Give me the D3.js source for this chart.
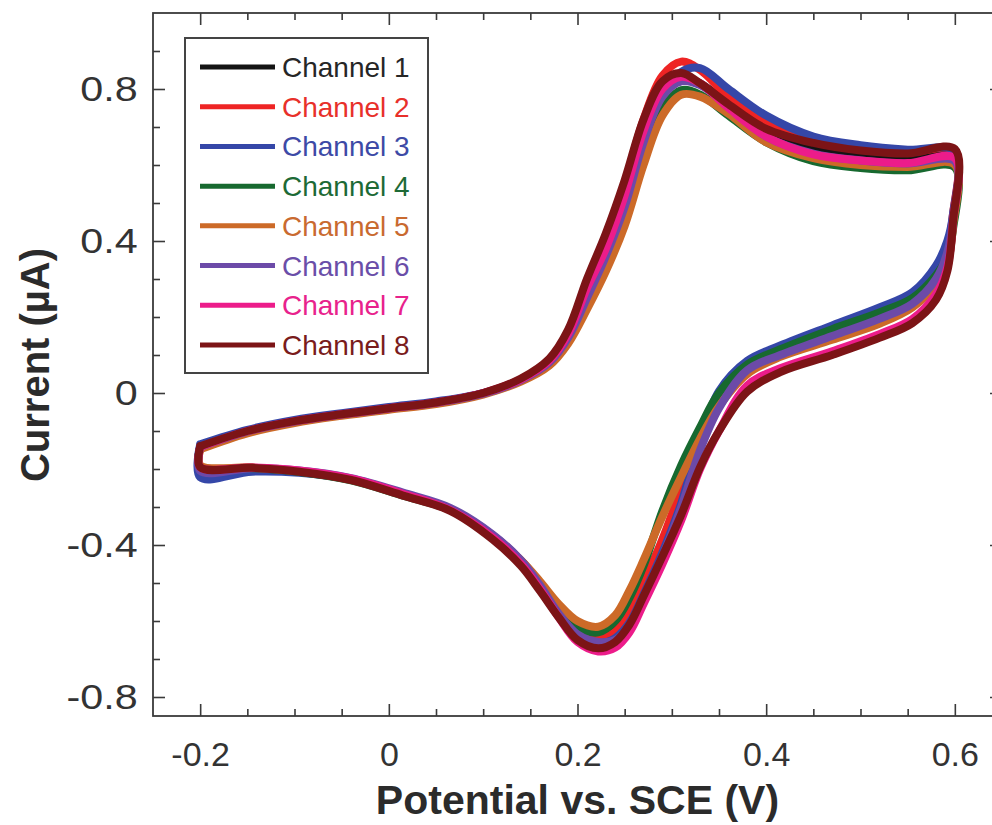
<!DOCTYPE html>
<html>
<head>
<meta charset="utf-8">
<script src="https://cdn.jsdelivr.net/npm/d3@7"></script>
<style>
  body { margin: 0; background: #fff; }
  svg { display: block; }
</style>
</head>
<body>
<div id="plot"></div>
<script>
// channels and tick labels
let channels = ['Channel 1', 'Channel 2', 'Channel 3', 'Channel 4',
                'Channel 5', 'Channel 6', 'Channel 7', 'Channel 8'];
let xTicks = [-0.2, 0, 0.2, 0.4, 0.6];
let yTicks = [-0.8, -0.4, 0, 0.4, 0.8];

// potential (V) of the forward scan and of the return scan
let potentialFwd = [-0.2, -0.15, -0.1, -0.05, 0, 0.05, 0.1, 0.14, 0.17, 0.19, 0.21, 0.23,
                    0.25, 0.27, 0.29, 0.31, 0.33, 0.36, 0.4, 0.45, 0.5, 0.55, 0.6];
let potentialRev = [0.598, 0.592, 0.58, 0.555, 0.52, 0.47, 0.415, 0.38, 0.35, 0.33, 0.31, 0.29,
                    0.27, 0.255, 0.24, 0.222, 0.2, 0.18, 0.16, 0.14, 0.11, 0.065, 0.015,
                    -0.04, -0.095, -0.145, -0.2];

// current (uA)
let ch1Fwd = [-0.143, -0.101, -0.075, -0.056, -0.040, -0.025, -0.001, 0.035, 0.084, 0.150, 0.260, 0.370,
              0.500, 0.670, 0.790, 0.830, 0.815, 0.760, 0.690, 0.645, 0.625, 0.617, 0.625];
let ch1Rev = [0.45, 0.35, 0.29, 0.235, 0.195, 0.15, 0.105, 0.06, -0.03, -0.13, -0.26, -0.39,
              -0.5, -0.58, -0.625, -0.64, -0.625, -0.57, -0.5, -0.44, -0.375, -0.305, -0.266,
              -0.227, -0.206, -0.197, -0.195];
let ch2Fwd = [-0.145, -0.102, -0.076, -0.057, -0.041, -0.026, -0.001, 0.036, 0.088, 0.160, 0.290, 0.410,
              0.550, 0.720, 0.835, 0.872, 0.850, 0.780, 0.715, 0.668, 0.645, 0.633, 0.638];
let ch2Rev = [0.47, 0.38, 0.31, 0.25, 0.21, 0.165, 0.115, 0.075, -0.01, -0.11, -0.25, -0.385,
              -0.5, -0.58, -0.628, -0.645, -0.628, -0.572, -0.502, -0.442, -0.376, -0.306, -0.266,
              -0.227, -0.206, -0.197, -0.196];
let ch3Fwd = [-0.135, -0.097, -0.071, -0.053, -0.037, -0.022, 0.000, 0.034, 0.080, 0.140, 0.240, 0.350,
              0.480, 0.650, 0.780, 0.845, 0.855, 0.800, 0.730, 0.675, 0.652, 0.640, 0.636];
let ch3Rev = [0.47, 0.40, 0.335, 0.265, 0.225, 0.178, 0.125, 0.085, 0.005, -0.12, -0.29, -0.42,
              -0.53, -0.605, -0.645, -0.658, -0.635, -0.575, -0.505, -0.442, -0.374, -0.305, -0.266,
              -0.228, -0.21, -0.207, -0.222];
let ch4Fwd = [-0.143, -0.102, -0.076, -0.057, -0.041, -0.026, -0.002, 0.033, 0.078, 0.140, 0.240, 0.340,
              0.470, 0.630, 0.750, 0.797, 0.785, 0.730, 0.660, 0.610, 0.592, 0.586, 0.594];
let ch4Rev = [0.43, 0.36, 0.31, 0.25, 0.212, 0.168, 0.115, 0.075, 0.0, -0.09, -0.19, -0.31,
              -0.455, -0.54, -0.6, -0.63, -0.615, -0.565, -0.5, -0.443, -0.378, -0.308, -0.27,
              -0.23, -0.208, -0.198, -0.195];
let ch5Fwd = [-0.148, -0.106, -0.079, -0.060, -0.044, -0.029, -0.004, 0.030, 0.072, 0.130, 0.220, 0.320,
              0.440, 0.600, 0.730, 0.785, 0.780, 0.735, 0.660, 0.618, 0.600, 0.595, 0.600];
let ch5Rev = [0.44, 0.34, 0.285, 0.225, 0.182, 0.14, 0.095, 0.05, -0.035, -0.12, -0.22, -0.325,
              -0.44, -0.52, -0.585, -0.615, -0.6, -0.555, -0.495, -0.44, -0.375, -0.306, -0.268,
              -0.228, -0.206, -0.196, -0.19];
let ch6Fwd = [-0.142, -0.101, -0.075, -0.057, -0.041, -0.026, -0.002, 0.034, 0.080, 0.145, 0.250, 0.360,
              0.490, 0.660, 0.780, 0.820, 0.810, 0.755, 0.675, 0.630, 0.612, 0.604, 0.610];
let ch6Rev = [0.46, 0.37, 0.3, 0.235, 0.195, 0.15, 0.1, 0.06, -0.04, -0.15, -0.3, -0.43,
              -0.54, -0.615, -0.65, -0.655, -0.635, -0.58, -0.505, -0.44, -0.372, -0.302, -0.262,
              -0.224, -0.204, -0.198, -0.205];
let ch7Fwd = [-0.142, -0.100, -0.074, -0.056, -0.040, -0.025, 0.000, 0.036, 0.085, 0.155, 0.275, 0.380,
              0.520, 0.690, 0.800, 0.832, 0.815, 0.750, 0.675, 0.628, 0.612, 0.605, 0.618];
let ch7Rev = [0.45, 0.33, 0.26, 0.195, 0.155, 0.11, 0.065, 0.02, -0.1, -0.2, -0.335, -0.45,
              -0.555, -0.63, -0.67, -0.68, -0.655, -0.59, -0.515, -0.45, -0.38, -0.308, -0.265,
              -0.225, -0.204, -0.196, -0.195];
let ch8Fwd = [-0.140, -0.100, -0.074, -0.056, -0.040, -0.025, 0.000, 0.038, 0.090, 0.166, 0.300, 0.420,
              0.560, 0.720, 0.820, 0.842, 0.815, 0.760, 0.695, 0.658, 0.638, 0.630, 0.642];
let ch8Rev = [0.45, 0.32, 0.245, 0.184, 0.145, 0.1, 0.055, 0.004, -0.1, -0.195, -0.32, -0.43,
              -0.535, -0.61, -0.655, -0.672, -0.65, -0.59, -0.52, -0.455, -0.385, -0.31, -0.27,
              -0.229, -0.207, -0.197, -0.195];

let fwdCurrents = [ch1Fwd, ch2Fwd, ch3Fwd, ch4Fwd, ch5Fwd, ch6Fwd, ch7Fwd, ch8Fwd];
let revCurrents = [ch1Rev, ch2Rev, ch3Rev, ch4Rev, ch5Rev, ch6Rev, ch7Rev, ch8Rev];

let lineColors = ['#141414', '#ee2424', '#3547a8', '#17692f', '#cc6a28', '#6c4aa8', '#ec1c8a', '#7c1416'];
let textColors = ['#262626', '#e8302a', '#3d4aa6', '#1d6a36', '#c96a30', '#6a4ea8', '#e8228c', '#7a1c1c'];

let width = 992, height = 825;
let margin = { top: 13, bottom: 109, left: 153, right: -10 };

let svg = d3.select('#plot')
  .append('svg')
  .attr('width', width)
  .attr('height', height);

let xScale = d3.scaleLinear()
  .domain([-0.25, 0.65])
  .range([margin.left, width - margin.right]);

let yScale = d3.scaleLinear()
  .domain([-0.85, 1.0])
  .range([height - margin.bottom, margin.top]);

let xMinor = [-0.15, -0.1, -0.05, 0.05, 0.1, 0.15, 0.25, 0.3, 0.35, 0.45, 0.5, 0.55];
let yMinor = [-0.7, -0.6, -0.5, -0.3, -0.2, -0.1, 0.1, 0.2, 0.3, 0.5, 0.6, 0.7, 0.9];

let fmt = d => String(d);
let axisColor = '#3a3a3a';
let font = 'Liberation Sans, Arial, Helvetica, sans-serif';

// curves
let series = channels.map((name, c) => {
  let pts = potentialFwd.map((v, i) => [v, fwdCurrents[c][i]])
    .concat(potentialRev.map((v, i) => [v, revCurrents[c][i]]));
  pts.push(pts[0]);
  return { name: name, color: lineColors[c], pts: pts };
});

svg.append('clipPath').attr('id', 'clip')
  .append('rect')
  .attr('x', margin.left).attr('y', margin.top)
  .attr('width', width - margin.right - margin.left)
  .attr('height', height - margin.bottom - margin.top);

let line = d3.line()
  .x(d => xScale(d[0]))
  .y(d => yScale(d[1]))
  .curve(d3.curveCatmullRom.alpha(0.5));

svg.append('g').attr('clip-path', 'url(#clip)')
  .selectAll('path')
  .data(series)
  .enter()
  .append('path')
  .attr('d', d => line(d.pts))
  .attr('fill', 'none')
  .attr('stroke', d => d.color)
  .attr('stroke-width', 8)
  .attr('stroke-linejoin', 'round')
  .attr('stroke-linecap', 'round');

// axes (ticks point inward)
function styleAxis(g) {
  g.select('.domain').remove();
  g.selectAll('line').attr('stroke', axisColor).attr('stroke-width', 1.6);
  g.selectAll('text')
    .attr('fill', '#333')
    .style('font-family', font)
    .style('font-size', '34px');
}

let bottom = height - margin.bottom;
let right = width - margin.right;

svg.append('g')
  .attr('transform', `translate(0,${bottom})`)
  .call(d3.axisBottom(xScale).tickValues(xTicks).tickFormat(fmt).tickSize(-12).tickPadding(26))
  .call(styleAxis);
svg.append('g')
  .attr('transform', `translate(0,${bottom})`)
  .call(d3.axisBottom(xScale).tickValues(xMinor).tickFormat('').tickSize(-7))
  .call(styleAxis);
svg.append('g')
  .attr('transform', `translate(0,${margin.top})`)
  .call(d3.axisTop(xScale).tickValues(xTicks).tickFormat('').tickSize(-12))
  .call(styleAxis);
svg.append('g')
  .attr('transform', `translate(0,${margin.top})`)
  .call(d3.axisTop(xScale).tickValues(xMinor).tickFormat('').tickSize(-7))
  .call(styleAxis);

// y tick labels are drawn a little wider in the reference
svg.append('g')
  .attr('transform', `translate(${margin.left},0)`)
  .call(d3.axisLeft(yScale).tickValues(yTicks).tickFormat(fmt).tickSize(-12).tickPadding(13))
  .call(styleAxis)
  .call(g => g.selectAll('text').style('font-size', '35px').attr('transform', 'scale(1.18,1)'));
svg.append('g')
  .attr('transform', `translate(${margin.left},0)`)
  .call(d3.axisLeft(yScale).tickValues(yMinor).tickFormat('').tickSize(-7))
  .call(styleAxis);
svg.append('g')
  .attr('transform', `translate(${right},0)`)
  .call(d3.axisRight(yScale).tickValues(yTicks).tickFormat('').tickSize(-12))
  .call(styleAxis);
svg.append('g')
  .attr('transform', `translate(${right},0)`)
  .call(d3.axisRight(yScale).tickValues(yMinor).tickFormat('').tickSize(-7))
  .call(styleAxis);

// frame
svg.append('rect')
  .attr('x', margin.left).attr('y', margin.top)
  .attr('width', right - margin.left)
  .attr('height', bottom - margin.top)
  .attr('fill', 'none')
  .attr('stroke', axisColor)
  .attr('stroke-width', 1.8);

// axis titles
svg.append('text')
  .attr('x', xScale(0.2))
  .attr('y', 814)
  .attr('text-anchor', 'middle')
  .style('font-family', font)
  .style('font-size', '41px')
  .style('font-weight', 'bold')
  .attr('fill', '#2b2b2b')
  .text('Potential vs. SCE (V)');

svg.append('text')
  .attr('transform', 'translate(49,365) rotate(-90)')
  .attr('text-anchor', 'middle')
  .style('font-family', font)
  .style('font-size', '40px')
  .style('font-weight', 'bold')
  .attr('fill', '#2b2b2b')
  .text('Current (µA)');

// legend
let legend = svg.append('g');
legend.append('rect')
  .attr('x', 185).attr('y', 38)
  .attr('width', 243).attr('height', 335)
  .attr('fill', '#fff')
  .attr('stroke', '#444')
  .attr('stroke-width', 2);

let rowY = d3.scalePoint().domain(channels).range([67, 345]);

legend.selectAll('line.key')
  .data(channels)
  .enter()
  .append('line')
  .attr('class', 'key')
  .attr('x1', 200).attr('x2', 275)
  .attr('y1', d => rowY(d)).attr('y2', d => rowY(d))
  .attr('stroke', (d, i) => lineColors[i])
  .attr('stroke-width', 5);

legend.selectAll('text')
  .data(channels)
  .enter()
  .append('text')
  .attr('x', 282)
  .attr('y', d => rowY(d) + 10)
  .style('font-family', font)
  .style('font-size', '28px')
  .attr('fill', (d, i) => textColors[i])
  .text(d => d);
</script>
</body>
</html>
